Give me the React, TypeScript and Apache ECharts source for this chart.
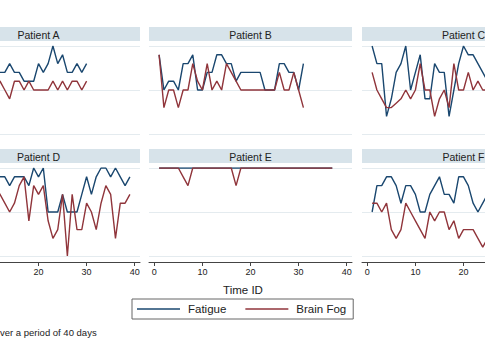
import React, { useEffect, useRef } from "react";
import * as echarts from "echarts";

const patientNames = ["Patient A", "Patient B", "Patient C", "Patient D", "Patient E", "Patient F"];
const seriesNames = ["Fatigue", "Brain Fog"];
const xTickValues = [0, 10, 20, 30, 40];
// tick labels that fall inside the visible window, per column
const xLabelValuesByCol = [[20, 30, 40], [0, 10, 20, 30, 40], [0, 10, 20]];

// Daily scores, day 1 onwards
const fatigueA = [7, 8, 8, 7, 6, 7, 8, 7, 7, 8, 7, 7, 7, 8, 7, 7, 6, 6, 6, 8, 7, 8, 10, 8, 9, 7, 7, 8, 7, 8];
const brainFogA = [6, 5, 6, 6, 5, 6, 5, 6, 6, 5, 6, 6, 5, 4, 6, 6, 5, 6, 5, 5, 5, 5, 6, 5, 6, 5, 6, 6, 5, 6];

const fatigueB = [9, 5, 6, 6, 5, 8, 8, 9, 5, 5, 7, 7, 9, 9, 8, 8, 6, 7, 7, 7, 7, 7, 5, 5, 5, 8, 8, 7, 7, 5, 8];
const brainFogB = [9, 3, 5, 5, 3, 5, 5, 8, 6, 5, 8, 5, 6, 5, 8, 7, 6, 5, 5, 5, 5, 5, 5, 5, 5, 7, 5, 5, 7, 5, 3];

const fatigueC = [10, 8, 8, 2, 4, 7, 8, 10, 5, 7, 9, 4, 4, 8, 7, 7, 2, 5, 8, 10, 9, 9, 8, 7, 6, 8, 9, 7, 8, 6];
const brainFogC = [7, 5, 4, 3, 3, 3.5, 4, 5, 4, 5, 8, 5, 5, 2, 4, 5, 3, 8, 5, 5, 7, 5, 6, 5, 5, 6, 4, 5, 6, 5];

const fatigueD = [9, 8, 9, 10, 9, 9, 8, 9, 9, 8, 9, 9, 9, 8, 9, 9, 9, 8, 10, 9, 10, 5, 5, 5, 7, 5, 5, 5, 7, 9, 7, 9, 10, 10, 9, 10, 9, 8, 9];
const brainFogD = [6, 7, 5, 6, 7, 8, 6, 5, 7, 6, 8, 7, 6, 5, 6, 8, 9, 4, 8, 7, 8, 4, 2, 3, 7, 0, 7, 3, 3, 6, 5, 3, 6, 8, 7, 2, 6, 6, 7];

const fatigueE = [10, 10, 10, 10, 10, 10, 10, 10, 10, 10, 10, 10, 10, 10, 10, 10, 10, 10, 10, 10, 10, 10, 10, 10, 10, 10, 10, 10, 10, 10, 10, 10, 10, 10, 10, 10, 10];
const brainFogE = [10, 10, 10, 10, 10, 9, 8, 10, 10, 10, 10, 10, 10, 10, 10, 10, 8, 10, 10, 10, 10, 10, 10, 10, 10, 10, 10, 10, 10, 10, 10, 10, 10, 10, 10, 10, 10];

const fatigueF = [5, 8, 8, 9, 9, 8, 6, 8, 8, 7, 5, 5, 7, 8, 9, 7, 7, 6, 9, 9, 8, 6, 5, 6, 7, 8, 9, 8, 7, 8];
const brainFogF = [6, 6, 5, 6, 3, 2, 3, 6, 5, 4, 3, 2, 5, 4, 5, 5, 3, 4, 2, 3, 3, 3, 2, 1, 2, 3, 2, 1, 2, 2];

const fatigueSeries = [fatigueA, fatigueB, fatigueC, fatigueD, fatigueE, fatigueF];
const brainFogSeries = [brainFogA, brainFogB, brainFogC, brainFogD, brainFogE, brainFogF];

const COLORS = ["#1a476f", "#90353b"];
const FONT = "'Liberation Sans', Arial, sans-serif";
const SHIFT = 70; // inner canvas extends beyond the visible window on the left
const INNER_W = 660;
const colLefts = [-63 + SHIFT, 149 + SHIFT, 362 + SHIFT];
const panelWidth = 203;
const rowTops = [46, 168];
const stripTops = [27, 149];
const plotHeight = 88;

const toPoints = (vals: number[]) => vals.map((v, i) => [i + 1, v]);

export default function App() {
  const ref = useRef<HTMLDivElement>(null);

  useEffect(() => {
    if (!ref.current) return;
    const chart = echarts.init(ref.current, undefined, { renderer: "svg" });

    const grids: any[] = [];
    const xAxes: any[] = [];
    const yAxes: any[] = [];
    const series: any[] = [];
    const graphics: any[] = [];

    patientNames.forEach((name, i) => {
      const row = Math.floor(i / 3);
      const col = i % 3;
      const left = colLefts[col];
      grids.push({ left, top: rowTops[row], width: panelWidth, height: plotHeight, containLabel: false });
      const bottom = row === 1;
      xAxes.push({
        type: "value",
        gridIndex: i,
        min: -1.1,
        max: 41.1,
        show: bottom,
        offset: 6,
        axisLine: { show: true, onZero: false, lineStyle: { color: "#444", width: 1 } },
        axisTick: { show: true, customValues: xTickValues, length: 4, lineStyle: { color: "#444" } },
        axisLabel: { show: true, customValues: xLabelValuesByCol[col], fontSize: 9, color: "#222", margin: 5, fontFamily: FONT },
        splitLine: { show: false },
      });
      yAxes.push({
        type: "value",
        gridIndex: i,
        min: 0,
        max: 10,
        interval: 5,
        axisLine: { show: false },
        axisTick: { show: false },
        axisLabel: { show: false },
        splitLine: { show: true, lineStyle: { color: "#e4ebef", width: 1 } },
      });
      series.push({
        type: "line",
        name: seriesNames[0],
        xAxisIndex: i,
        yAxisIndex: i,
        data: toPoints(fatigueSeries[i]),
        symbol: "none",
        lineStyle: { color: COLORS[0], width: 1.4 },
        itemStyle: { color: COLORS[0] },
      });
      series.push({
        type: "line",
        name: seriesNames[1],
        xAxisIndex: i,
        yAxisIndex: i,
        data: toPoints(brainFogSeries[i]),
        symbol: "none",
        lineStyle: { color: COLORS[1], width: 1.4 },
        itemStyle: { color: COLORS[1] },
      });
      graphics.push({
        type: "rect",
        shape: { x: left, y: stripTops[row], width: panelWidth, height: 14 },
        style: { fill: "#d7e3ea" },
        silent: true,
      });
      graphics.push({
        type: "text",
        x: left + panelWidth / 2,
        y: stripTops[row] + 7.5,
        style: { text: name, align: "center", verticalAlign: "middle", fontSize: 10.5, fill: "#222", fontFamily: FONT },
        silent: true,
      });
    });

    graphics.push({
      type: "text",
      x: 243 + SHIFT,
      y: 289.5,
      style: { text: "Time ID", align: "center", verticalAlign: "middle", fontSize: 11.5, fill: "#222", fontFamily: FONT },
    });
    graphics.push({
      type: "text",
      x: 0 + SHIFT,
      y: 332.5,
      style: { text: "ver a period of 40 days", align: "left", verticalAlign: "middle", fontSize: 9.5, fill: "#222", fontFamily: FONT },
    });

    chart.setOption({
      animation: false,
      backgroundColor: "#ffffff",
      grid: grids,
      xAxis: xAxes,
      yAxis: yAxes,
      series,
      legend: {
        data: seriesNames,
        left: 132 + SHIFT,
        top: 299,
        orient: "horizontal",
        icon: "rect",
        itemWidth: 43,
        itemHeight: 1.5,
        itemGap: 19,
        padding: [4, 7, 4, 5],
        borderColor: "#666",
        borderWidth: 1,
        textStyle: { fontSize: 11.5, color: "#222", fontFamily: FONT, padding: [0, 0, 0, 3] },
      },
      graphic: graphics,
    });

    return () => chart.dispose();
  }, []);

  return (
    <div style={{ position: "absolute", left: 0, top: 0, width: 485, height: 360, overflow: "hidden", background: "#fff" }}>
      <div ref={ref} style={{ position: "absolute", left: -SHIFT, top: 0, width: INNER_W, height: 360 }} />
    </div>
  );
}
